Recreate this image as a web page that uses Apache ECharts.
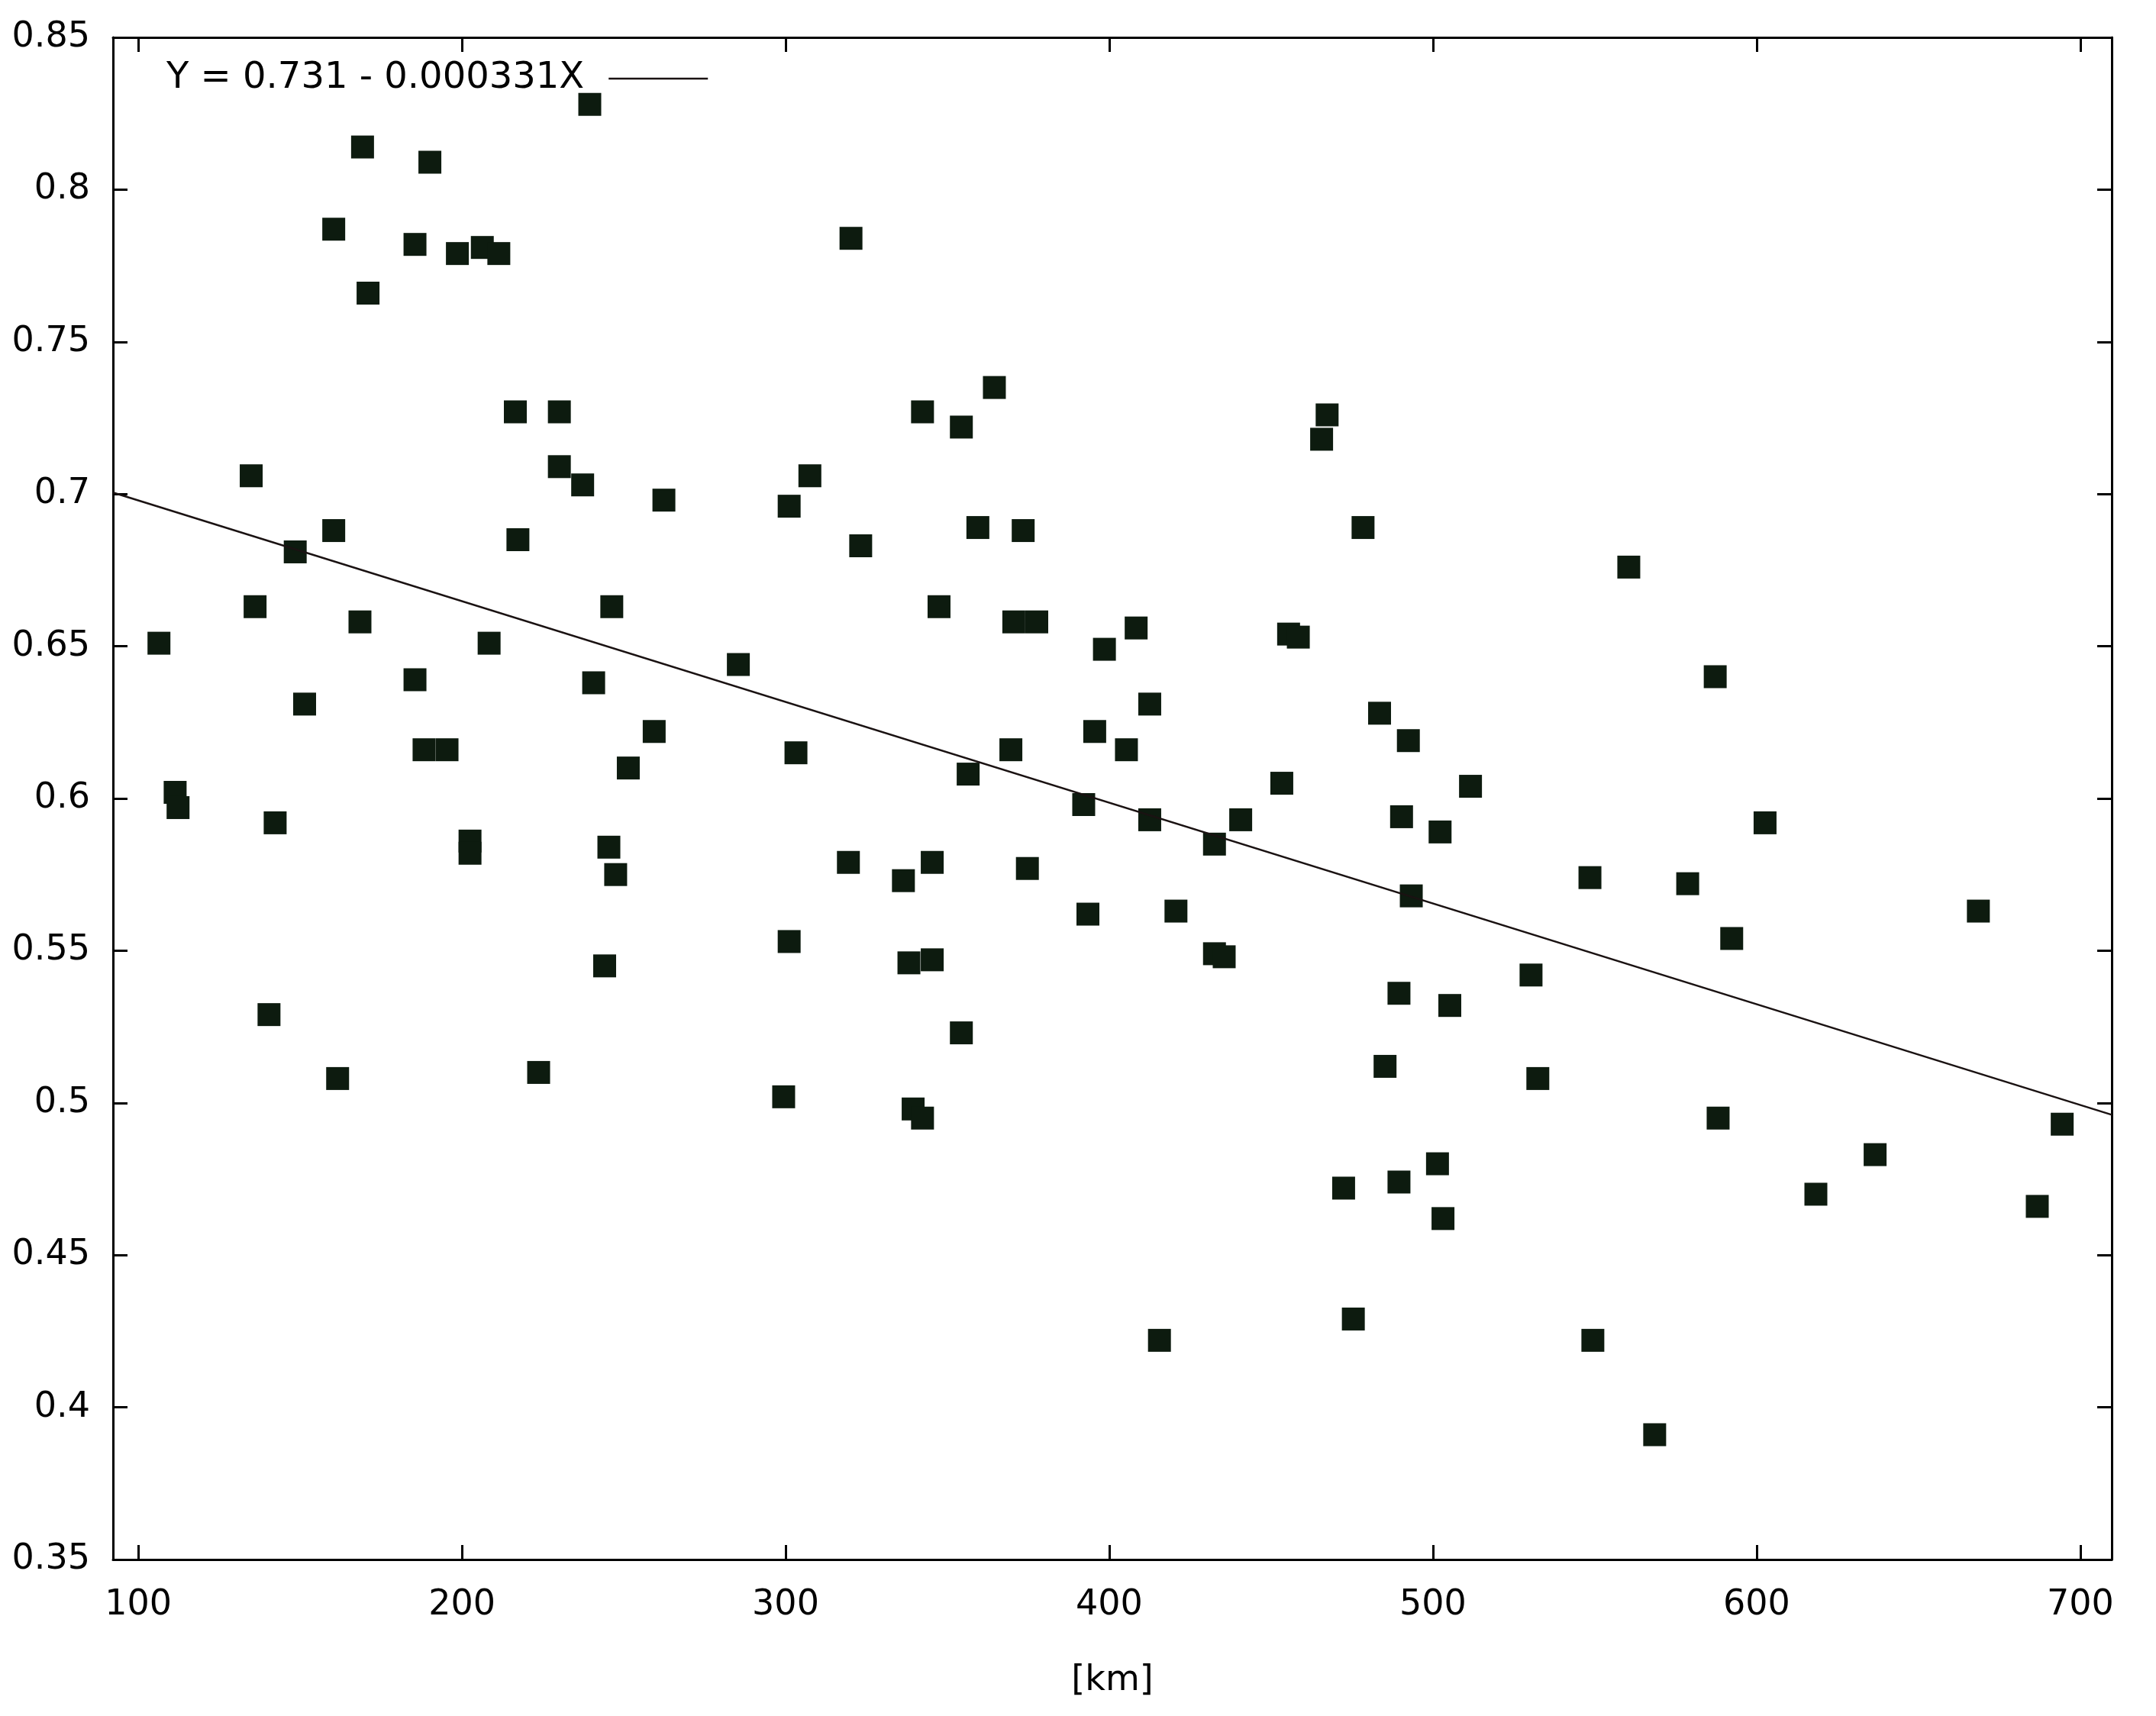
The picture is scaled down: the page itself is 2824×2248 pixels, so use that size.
<!DOCTYPE html>
<html>
<head>
<meta charset="utf-8">
<script src="https://cdn.jsdelivr.net/npm/echarts@6/dist/echarts.min.js"></script>
<style>
html,body{margin:0;padding:0;background:#fff;}
#chart{width:2824px;height:2248px;}
</style>
</head>
<body>
<div id="chart"></div>
<script>
// ---- data ----
const distanceKm = [
  106.4, 111.4, 112.3, 134.9, 136.1, 140.4, 142.3, 148.5, 151.4, 160.4,
  160.4, 161.6, 168.5, 169.3, 171.0, 185.5, 185.5, 188.3, 190.1, 195.4,
  198.6, 202.5, 202.5, 206.3, 208.4, 211.4, 216.5, 217.3, 223.7, 230.1,
  230.1, 237.3, 239.5, 240.7, 244.1, 245.4, 246.3, 247.5, 251.4, 259.4,
  262.4, 285.4, 299.4, 301.1, 301.1, 303.2, 307.5, 319.4, 320.2, 323.2,
  336.4, 338.1, 339.4, 342.3, 342.3, 345.3, 345.3, 347.4, 354.3, 354.3,
  356.4, 359.4, 364.5, 369.6, 370.5, 373.4, 374.7, 377.6, 392.1, 393.4,
  395.5, 398.5, 405.3, 408.3, 412.5, 412.5, 415.5, 420.6, 432.5, 432.5,
  435.5, 440.6, 453.3, 455.4, 458.4, 465.6, 467.3, 472.4, 475.4, 478.4,
  483.5, 485.2, 489.5, 489.5, 490.3, 492.4, 493.3, 501.4, 502.2, 503.1,
  505.2, 511.6, 530.3, 532.4, 548.5, 549.4, 560.5, 568.5, 578.7, 587.2,
  588.1, 592.3, 602.6, 618.3, 636.6, 668.5, 686.7, 694.4
];
const ratioValues = [
  0.651, 0.602, 0.597, 0.706, 0.663, 0.529, 0.592, 0.681, 0.631, 0.787,
  0.688, 0.508, 0.658, 0.814, 0.766, 0.782, 0.639, 0.616, 0.809, 0.616,
  0.779, 0.586, 0.582, 0.781, 0.651, 0.779, 0.727, 0.685, 0.510, 0.727,
  0.709, 0.703, 0.828, 0.638, 0.545, 0.584, 0.663, 0.575, 0.610, 0.622,
  0.698, 0.644, 0.502, 0.696, 0.553, 0.615, 0.706, 0.579, 0.784, 0.683,
  0.573, 0.546, 0.498, 0.727, 0.495, 0.579, 0.547, 0.663, 0.722, 0.523,
  0.608, 0.689, 0.735, 0.616, 0.658, 0.688, 0.577, 0.658, 0.598, 0.562,
  0.622, 0.649, 0.616, 0.656, 0.631, 0.593, 0.422, 0.563, 0.585, 0.549,
  0.548, 0.593, 0.605, 0.654, 0.653, 0.718, 0.726, 0.472, 0.429, 0.689,
  0.628, 0.512, 0.536, 0.474, 0.594, 0.619, 0.568, 0.480, 0.589, 0.462,
  0.532, 0.604, 0.542, 0.508, 0.574, 0.422, 0.676, 0.391, 0.572, 0.640,
  0.495, 0.554, 0.592, 0.470, 0.483, 0.563, 0.466, 0.493
];
// regression line end points (as drawn across the plot)
const fitX = [92.2, 709.7];
const fitY = [0.7005, 0.4961];
const fitName = 'Y = 0.731 - 0.000331X';
const xTicks = [100, 200, 300, 400, 500, 600, 700];
const yMin = 0.35, yMax = 0.85, yStep = 0.05;
const xMin = 92.2, xMax = 709.7;
const axisTitle = '[km]';

// ---- chart ----
const FONT = 'DejaVu Sans';
const black = '#000000';
const scatterData = distanceKm.map((x, i) => [x, ratioValues[i]]);
const fitData = fitX.map((x, i) => [x, fitY[i]]);

const axisLine = { show: true, onZero: false, lineStyle: { color: black, width: 3 } };
const tickStyle = { show: true, inside: true, length: 19, lineStyle: { color: black, width: 3 } };

const chart = echarts.init(document.getElementById('chart'), null, { renderer: 'canvas' });
chart.setOption({
  backgroundColor: '#ffffff',
  animation: false,
  textStyle: { fontFamily: FONT },
  grid: { left: 148, right: 58, top: 49, bottom: 205, containLabel: false },
  legend: {
    data: [fitName],
    left: 218,
    top: 79,
    padding: 0,
    align: 'right',
    itemWidth: 130,
    itemHeight: 10,
    selectedMode: false,
    itemStyle: { opacity: 0 },
    lineStyle: { color: '#1a1212', width: 2.5, opacity: 1 },
    textStyle: { fontFamily: FONT, fontSize: 48, color: black, padding: [4, 27, 0, 0] }
  },
  xAxis: [
    {
      type: 'value', position: 'bottom', min: xMin, max: xMax,
      axisLine: axisLine,
      axisTick: Object.assign({}, tickStyle, { customValues: xTicks }),
      axisLabel: { customValues: xTicks, margin: 37, fontSize: 46, color: black, fontFamily: FONT },
      splitLine: { show: false },
      name: axisTitle, nameLocation: 'middle', nameGap: 136,
      nameTextStyle: { fontSize: 46, color: black, fontFamily: FONT }
    },
    {
      type: 'value', position: 'top', min: xMin, max: xMax,
      axisLine: axisLine,
      axisTick: Object.assign({}, tickStyle, { customValues: xTicks }),
      axisLabel: { show: false },
      splitLine: { show: false }
    }
  ],
  yAxis: [
    {
      type: 'value', position: 'left', min: yMin, max: yMax, interval: yStep,
      axisLine: axisLine,
      axisTick: tickStyle,
      axisLabel: { margin: 30, fontSize: 46, color: black, fontFamily: FONT },
      splitLine: { show: false }
    },
    {
      type: 'value', position: 'right', min: yMin, max: yMax, interval: yStep,
      axisLine: axisLine,
      axisTick: tickStyle,
      axisLabel: { show: false },
      splitLine: { show: false }
    }
  ],
  series: [
    {
      type: 'scatter',
      name: 'points',
      xAxisIndex: 0, yAxisIndex: 0,
      symbol: 'rect',
      symbolSize: 30,
      itemStyle: { color: '#0d1b0f', opacity: 1 },
      data: scatterData,
      z: 2
    },
    {
      type: 'line',
      name: fitName,
      xAxisIndex: 0, yAxisIndex: 0,
      symbol: 'none',
      itemStyle: { color: '#1a1212' },
      lineStyle: { color: '#1a1212', width: 2.5 },
      data: fitData,
      z: 3
    }
  ]
});
</script>
</body>
</html>
